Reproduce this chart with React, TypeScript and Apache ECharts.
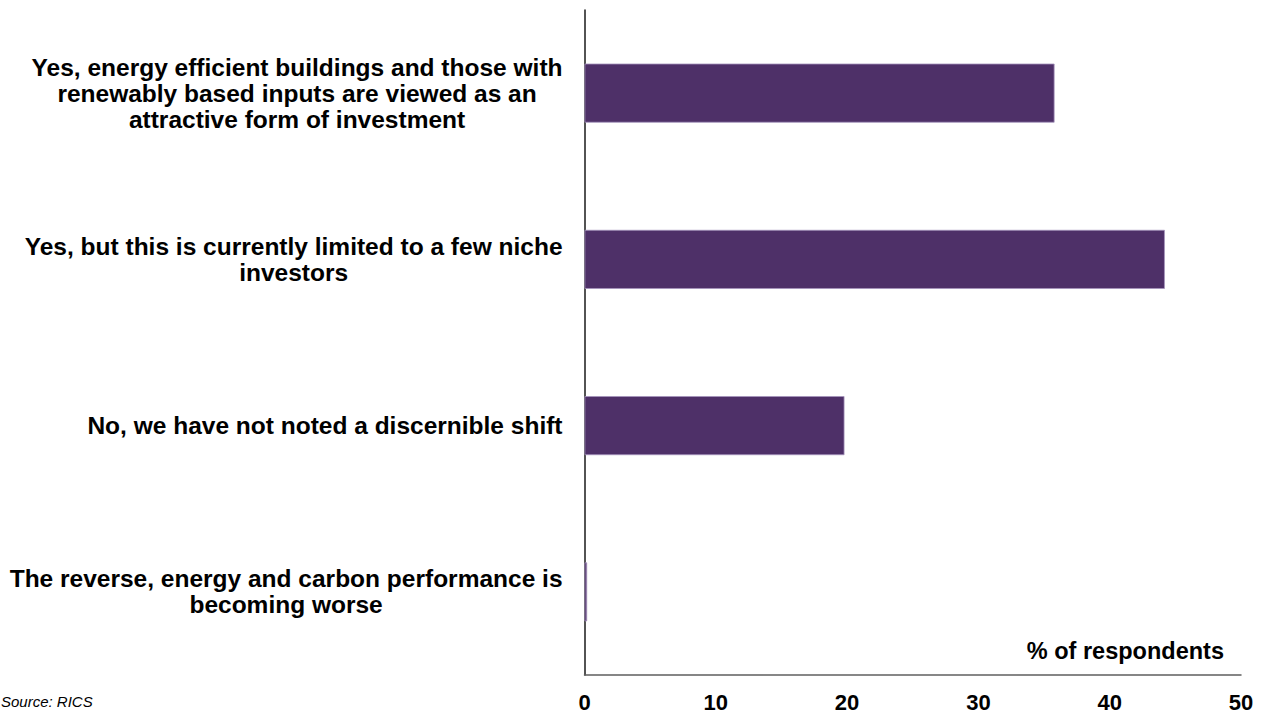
import React, { useEffect, useRef } from "react";
import * as echarts from "echarts";

const categories = [
  "Yes, energy efficient buildings and those with\nrenewably based inputs are viewed as an\nattractive form of investment",
  "Yes, but this is currently limited to a few niche\ninvestors",
  "No, we have not noted a discernible shift",
  "The reverse, energy and carbon performance is\nbecoming worse",
];
const values = [35.8, 44.2, 19.8, 0.2];
const xTicks = { min: 0, max: 50, interval: 10 };
const axisTitle = "% of respondents";
const sourceNote = "Source: RICS";

const FONT = "'Liberation Sans', Arial, sans-serif";

export default function App() {
  const ref = useRef<HTMLDivElement>(null);
  useEffect(() => {
    if (!ref.current) return;
    const chart = echarts.init(ref.current, null, { renderer: "svg" });
    chart.setOption({
      animation: false,
      backgroundColor: "#ffffff",
      grid: { left: 584.5, right: 26, top: 10, bottom: 39, containLabel: false },
      title: [
        {
          text: axisTitle,
          right: 38,
          top: 634,
          textStyle: { fontFamily: FONT, fontWeight: "bold", fontSize: 23.5, color: "#000" },
        },
        {
          text: sourceNote,
          left: -4,
          top: 689,
          textStyle: { fontFamily: FONT, fontStyle: "italic", fontWeight: "normal", fontSize: 15, color: "#000" },
        },
      ],
      xAxis: {
        type: "value",
        min: xTicks.min,
        max: xTicks.max,
        interval: xTicks.interval,
        splitLine: { show: false },
        axisTick: { show: false },
        axisLine: { show: true, lineStyle: { color: "#5f5f5f", width: 1.5 } },
        axisLabel: {
          margin: 16,
          fontFamily: FONT,
          fontWeight: "bold",
          fontSize: 22,
          color: "#000",
        },
      },
      yAxis: {
        type: "category",
        inverse: true,
        data: categories,
        axisTick: { show: false },
        axisLine: { show: true, lineStyle: { color: "#1a1a1a", width: 1.5 } },
        axisLabel: {
          margin: 22,
          align: "right",
          fontFamily: FONT,
          fontWeight: "bold",
          fontSize: 24.5,
          lineHeight: 26,
          color: "#000",
          formatter: (v: string) =>
            v
              .split("\n")
              .map((l) => `{a|${l}}`)
              .join("\n"),
          rich: {
            a: {
              align: "center",
              fontFamily: FONT,
              fontWeight: "bold",
              fontSize: 24.5,
              lineHeight: 26,
              color: "#000",
            },
          },
        },
      },
      series: [
        {
          type: "bar",
          data: values,
          barWidth: "35.5%",
          itemStyle: { color: "#4e3068", borderColor: "#a493bb", borderWidth: 0.8 },
        },
      ],
    });
    return () => chart.dispose();
  }, []);
  return (
    <div
      ref={ref}
      style={{ position: "absolute", left: 0, top: 0, width: 1267, height: 714 }}
    />
  );
}
